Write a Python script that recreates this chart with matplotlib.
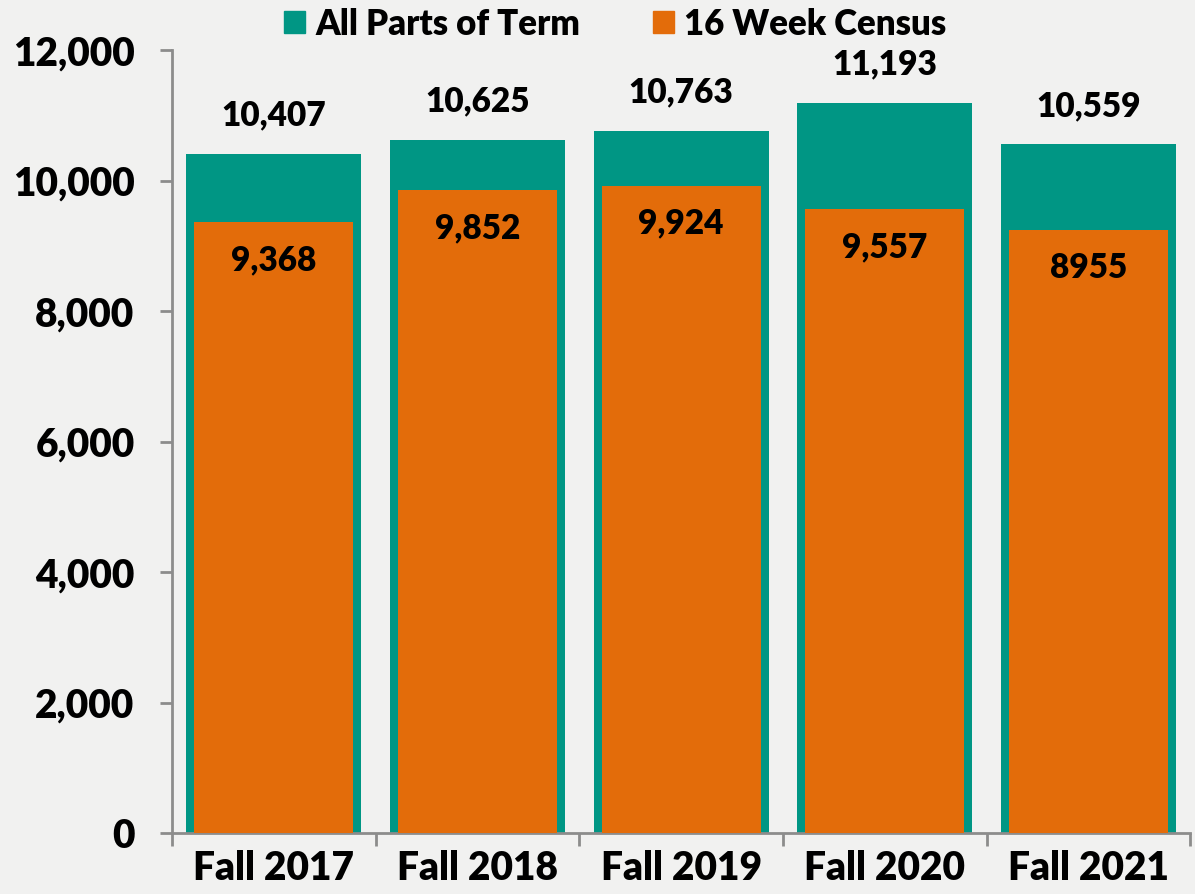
import matplotlib
matplotlib.use("Agg")
from matplotlib import pyplot as plt
from matplotlib.patches import Patch

terms = ["Fall 2017", "Fall 2018", "Fall 2019", "Fall 2020", "Fall 2021"]
all_parts = [10407, 10625, 10763, 11193, 10559]
census = [9368, 9852, 9924, 9557, 9250]
census_labels = ["9,368", "9,852", "9,924", "9,557", "8955"]

teal = "#009684"
orange = "#e36c0a"
grey = "#8c8c8c"
wt = "heavy"

plt.rcParams["font.family"] = ["Lato", "DejaVu Sans"]

fig = plt.figure(figsize=(11.95, 8.94), dpi=100, facecolor="#f1f1f0")
ax = fig.add_axes([0.144, 0.068, 0.852, 0.876])
ax.set_facecolor("none")

x = range(len(terms))
ax.bar(x, all_parts, width=0.86, color=teal, zorder=2)
ax.bar(x, census, width=0.78, color=orange, zorder=3)

for i, v in enumerate(all_parts):
    ax.annotate(f"{v:,}", (i, v), xytext=(0, 16), textcoords="offset points",
                ha="center", va="bottom", fontsize=24, fontweight=wt)
for i, v in enumerate(census):
    ax.annotate(census_labels[i], (i, v), xytext=(0, -16), textcoords="offset points",
                ha="center", va="top", fontsize=24, fontweight=wt, zorder=4)

ax.set_xlim(-0.5, len(terms) - 0.5)
ax.set_ylim(0, 12000)
ax.set_yticks(range(0, 12001, 2000))
ax.set_yticklabels([f"{v:,}" for v in range(0, 12001, 2000)], fontsize=28, fontweight=wt)
ax.set_xticks(list(x))
ax.set_xticklabels(terms, fontsize=28, fontweight=wt)
ax.set_xticks([i - 0.5 for i in range(len(terms) + 1)], minor=True)
ax.tick_params(axis="x", which="major", length=0, pad=12)
ax.tick_params(axis="x", which="minor", length=9, width=2, color=grey)
ax.tick_params(axis="y", length=9, width=2, color=grey, pad=18)

for s in ["top", "right"]:
    ax.spines[s].set_visible(False)
for s in ["left", "bottom"]:
    ax.spines[s].set_color(grey)
    ax.spines[s].set_linewidth(2)

handles = [Patch(color=teal, label="All Parts of Term"),
           Patch(color=orange, label="16 Week Census")]
fig.legend(handles=handles, loc="center", bbox_to_anchor=(0.515, 0.973), ncol=2,
           frameon=False, prop={"size": 25, "weight": wt},
           handlelength=0.6, handleheight=0.6, handletextpad=0.3, columnspacing=2.1)

fig.savefig("out.png", dpi=100, facecolor=fig.get_facecolor())
